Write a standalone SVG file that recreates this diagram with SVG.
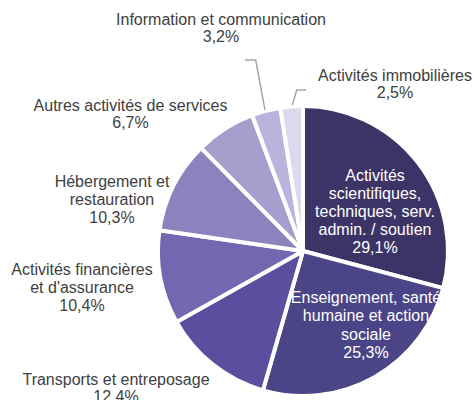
<svg xmlns="http://www.w3.org/2000/svg" width="474" height="400" viewBox="0 0 474 400">
<style>
text{font-family:"Liberation Sans",Arial,sans-serif;font-size:16px;text-anchor:middle}
.lbl{fill:#404040}
.in{fill:#ffffff}
.sl{stroke:#ffffff;stroke-width:4;stroke-linejoin:round}
.ld{fill:none;stroke:#a6a6a6;stroke-width:1.5}
</style>
<rect width="474" height="400" fill="#ffffff"/>
<g id="slice-scientifiques"><path class="sl" fill="#3c3467" d="M303,251 L303,106 A145,145 0 0 1 443.15,288.19 Z"/></g>
<g id="slice-enseignement"><path class="sl" fill="#4b4487" d="M303,251 L443.15,288.19 A145,145 0 0 1 262.93,390.36 Z"/></g>
<g id="slice-transports"><path class="sl" fill="#5a4e9f" d="M303,251 L262.93,390.36 A145,145 0 0 1 176.53,321.92 Z"/></g>
<g id="slice-financieres"><path class="sl" fill="#7267b1" d="M303,251 L176.53,321.92 A145,145 0 0 1 159.48,230.32 Z"/></g>
<g id="slice-hebergement"><path class="sl" fill="#8b82be" d="M303,251 L159.48,230.32 A145,145 0 0 1 200.98,147.96 Z"/></g>
<g id="slice-autres"><path class="sl" fill="#a69fce" d="M303,251 L200.98,147.96 A145,145 0 0 1 252.13,115.22 Z"/></g>
<g id="slice-information"><path class="sl" fill="#b9b4dc" d="M303,251 L252.13,115.22 A145,145 0 0 1 280.30,107.79 Z"/></g>
<g id="slice-immobilieres"><path class="sl" fill="#dcd9ed" d="M303,251 L280.30,107.79 A145,145 0 0 1 303,106 Z"/></g>
<g id="connectors">
<polyline class="ld" points="245,60 255.7,60 265,110"/>
<polyline class="ld" points="292.3,105 296.7,90 306,90"/>
</g>
<g id="label-scientifiques">
<text class="in" x="375" y="181">Activités</text>
<text class="in" x="375" y="199">scientifiques,</text>
<text class="in" x="375" y="217">techniques, serv.</text>
<text class="in" x="375" y="235">admin. / soutien</text>
<text class="in" x="375" y="253">29,1%</text>
</g>
<g id="label-enseignement">
<text class="in" x="366" y="303">Enseignement, santé</text>
<text class="in" x="366" y="321">humaine et action</text>
<text class="in" x="366" y="340">sociale</text>
<text class="in" x="366" y="358">25,3%</text>
</g>
<g id="label-transports">
<text class="lbl" x="116" y="385">Transports et entreposage</text>
<text class="lbl" x="116" y="402">12,4%</text>
</g>
<g id="label-financieres">
<text class="lbl" x="82" y="275">Activités financières</text>
<text class="lbl" x="82" y="293">et d'assurance</text>
<text class="lbl" x="82" y="311">10,4%</text>
</g>
<g id="label-hebergement">
<text class="lbl" x="112" y="187">Hébergement et</text>
<text class="lbl" x="112" y="205">restauration</text>
<text class="lbl" x="112" y="223">10,3%</text>
</g>
<g id="label-autres">
<text class="lbl" x="130.5" y="111">Autres activités de services</text>
<text class="lbl" x="130.5" y="128">6,7%</text>
</g>
<g id="label-information">
<text class="lbl" x="221" y="25">Information et communication</text>
<text class="lbl" x="221" y="42">3,2%</text>
</g>
<g id="label-immobilieres">
<text class="lbl" x="395" y="81">Activités immobilières</text>
<text class="lbl" x="395" y="98">2,5%</text>
</g>
</svg>
